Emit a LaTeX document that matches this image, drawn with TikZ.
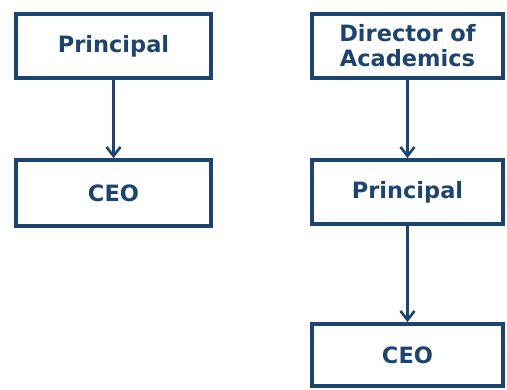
\documentclass[tikz,border=0pt]{standalone}
\usepackage{fontspec}
\setmainfont{DejaVu Sans}
\usetikzlibrary{arrows.meta}
\definecolor{navy}{HTML}{1D4470}
\begin{document}
\begin{tikzpicture}[x=1pt,y=-1pt,
  box/.style={draw=navy,line width=3.8pt,inner sep=0pt,align=center,
    text=navy,font=\fontsize{22.5}{25}\selectfont\bfseries},
  conn/.style={draw=navy,line width=2.6pt,-{Straight Barb[length=9pt,width=14pt,line width=2.6pt]}}]
\useasboundingbox (0,0) rectangle (507,389);
\node[box,minimum width=195pt,minimum height=64pt] (p1) at (113.5,46) {Principal};
\node[box,minimum width=195pt,minimum height=66pt] (c1) at (113.5,193) {CEO};
\node[box,minimum width=191pt,minimum height=64pt] (d2) at (407.5,46) {Director of\\Academics};
\node[box,minimum width=191pt,minimum height=64pt] (p2) at (407.5,192) {Principal};
\node[box,minimum width=191pt,minimum height=62pt] (c2) at (407.5,355) {CEO};
\draw[conn] (p1) -- (c1);
\draw[conn] (d2) -- (p2);
\draw[conn] (p2) -- (c2);
\end{tikzpicture}
\end{document}
